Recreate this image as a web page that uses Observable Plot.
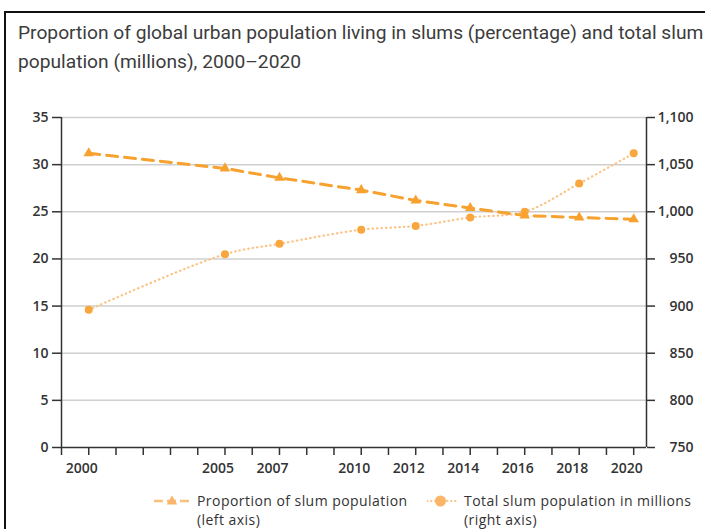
<!DOCTYPE html>
<html>
<head>
<meta charset="utf-8">
<script src="https://cdn.jsdelivr.net/npm/d3@7"></script>
<script src="https://cdn.jsdelivr.net/npm/@observablehq/plot@0.6"></script>
<style>
  html, body { margin: 0; padding: 0; background: #fff; }
  #page { position: relative; width: 705px; height: 529px; overflow: hidden; background: #fff; }
  #box { position: absolute; left: 4px; top: 11px; width: 720px; height: 540px;
         border-left: 2.5px solid #111; border-top: 2.5px solid #111; }
  #title { position: absolute; left: 18px; top: 18px; width: 720px; white-space: nowrap;
           font-family: Roboto, sans-serif; font-size: 19.2px; line-height: 29px; color: #3c3c3c; }
  #chart { position: absolute; left: 0; top: 100px; }
  .legend { position: absolute; top: 491px; font-family: "Open Sans", sans-serif;
            font-size: 14px; letter-spacing: 0.45px; color: #333; }
  .legend svg { position: absolute; top: 4px; }
  .legend .txt { position: absolute; white-space: nowrap; }
  .legend .txt div { height: 19px; line-height: 19px; }
</style>
</head>
<body>
<div id="page">
  <div id="box"></div>
  <div id="title">Proportion of global urban population living in slums (percentage) and total slum<br>population (millions), 2000–2020</div>
  <div id="chart"></div>
  <div class="legend" id="legend"></div>
</div>
<script>
// Survey years and the two series
const years = [2000, 2005, 2007, 2010, 2012, 2014, 2016, 2018, 2020];
const slumShare = [31.2, 29.6, 28.6, 27.3, 26.2, 25.4, 24.6, 24.4, 24.2];      // % of urban population (left axis)
const slumMillions = [896, 955, 966, 981, 985, 994, 1000, 1030, 1062];           // millions (right axis)

// Axis ticks
const tickYears = d3.range(1999, 2021);
const leftTicks = [0, 5, 10, 15, 20, 25, 30, 35];
const rightTicks = [750, 800, 850, 900, 950, 1000, 1050, 1100];

const xDomain = [1999, 2020.47];
const orange = "#f7a12f";
const dotOrange = "#f9a63f";
const lightOrange = "#fbc487";

// The right axis (750–1,100 million) shares the plot's y scale (0–35 %)
const toLeft = v => (v - rightTicks[0]) * (leftTicks[leftTicks.length - 1] / (rightTicks[rightTicks.length - 1] - rightTicks[0]));
const toRight = v => rightTicks[0] + v * ((rightTicks[rightTicks.length - 1] - rightTicks[0]) / leftTicks[leftTicks.length - 1]);

const share = years.map((year, i) => ({year, value: slumShare[i]}));
const total = years.map((year, i) => ({year, value: toLeft(slumMillions[i])}));

const fmt = d3.format(",");

const chart = Plot.plot({
  width: 705,
  height: 380,
  marginLeft: 61,
  marginRight: 59,
  marginTop: 17,
  marginBottom: 33,
  x: {domain: xDomain},
  y: {domain: [leftTicks[0], leftTicks[leftTicks.length - 1]]},
  style: {fontFamily: "'Open Sans', sans-serif", fontSize: "14px", color: "#333", background: "transparent", overflow: "visible"},
  marks: [
    Plot.gridY(leftTicks.filter(d => d > 0), {stroke: "#cfcfcf", strokeOpacity: 1, strokeWidth: 1.5}),
    Plot.ruleX([xDomain[0], xDomain[1]], {stroke: "#333", strokeWidth: 1.5}),
    Plot.ruleY([0], {stroke: "#333", strokeWidth: 1.5}),
    Plot.axisY(leftTicks, {anchor: "left", tickSize: 9, tickPadding: 4, label: null,
      stroke: "#333", strokeWidth: 1.5, fill: "#333", fontWeight: 600}),
    Plot.axisY(rightTicks.map(toLeft), {anchor: "right", tickSize: 8, tickPadding: 39, textAnchor: "end", label: null,
      tickFormat: d => fmt(Math.round(toRight(d))), stroke: "#333", strokeWidth: 1.5, fill: "#333", fontWeight: 600}),
    Plot.axisX(tickYears, {tickSize: 8, tickFormat: () => "", label: null, stroke: "#333", strokeWidth: 1.5}),
    Plot.axisX(years, {tickSize: 0, tickPadding: 16, dx: -7, tickFormat: d => String(d), label: null,
      fill: "#333", fontWeight: 600}),
    // Total slum population (dotted, right axis)
    Plot.line(total, {x: "year", y: "value", curve: "catmull-rom", stroke: lightOrange, strokeWidth: 2.2,
      strokeDasharray: "0.5,4", strokeLinecap: "round"}),
    Plot.dot(total, {x: "year", y: "value", r: 4, fill: dotOrange, stroke: "none"}),
    // Share of urban population in slums (dashed, left axis)
    Plot.line(share, {x: "year", y: "value", stroke: orange, strokeWidth: 3, strokeDasharray: "11,7"}),
    Plot.dot(share, {x: "year", y: "value", symbol: "triangle", r: 3.9, fill: orange, stroke: "none"})
  ]
});
document.getElementById("chart").appendChild(chart);

// Legend
const legendItems = [
  {left: 154, width: 36, lines: ["Proportion of slum population", "(left axis)"], kind: "share"},
  {left: 427, width: 30, lines: ["Total slum population in millions", "(right axis)"], kind: "total"}
];
const legend = d3.select("#legend");
legendItems.forEach(item => {
  const sw = legend.append("svg").attr("width", item.width).attr("height", 12)
    .style("left", item.left + "px");
  const cx = item.width / 2;
  if (item.kind === "share") {
    sw.append("line").attr("x1", 0).attr("x2", item.width).attr("y1", 6).attr("y2", 6)
      .attr("stroke", "#fbbf7c").attr("stroke-width", 2.5).attr("stroke-dasharray", "9,4");
    sw.append("path").attr("d", d3.symbol(d3.symbolTriangle, 48)()).attr("transform", `translate(${cx},6.5)`)
      .attr("fill", "#fbb566");
  } else {
    sw.append("line").attr("x1", 0).attr("x2", item.width).attr("y1", 6).attr("y2", 6)
      .attr("stroke", lightOrange).attr("stroke-width", 2).attr("stroke-dasharray", "0.5,3.5")
      .attr("stroke-linecap", "round");
    sw.append("circle").attr("cx", cx - 1.5).attr("cy", 6).attr("r", 5.5).attr("fill", "#fbb566");
  }
  const txt = legend.append("div").attr("class", "txt").style("left", (item.left + item.width + 7) + "px");
  item.lines.forEach(line => txt.append("div").text(line));
});
</script>
</body>
</html>
